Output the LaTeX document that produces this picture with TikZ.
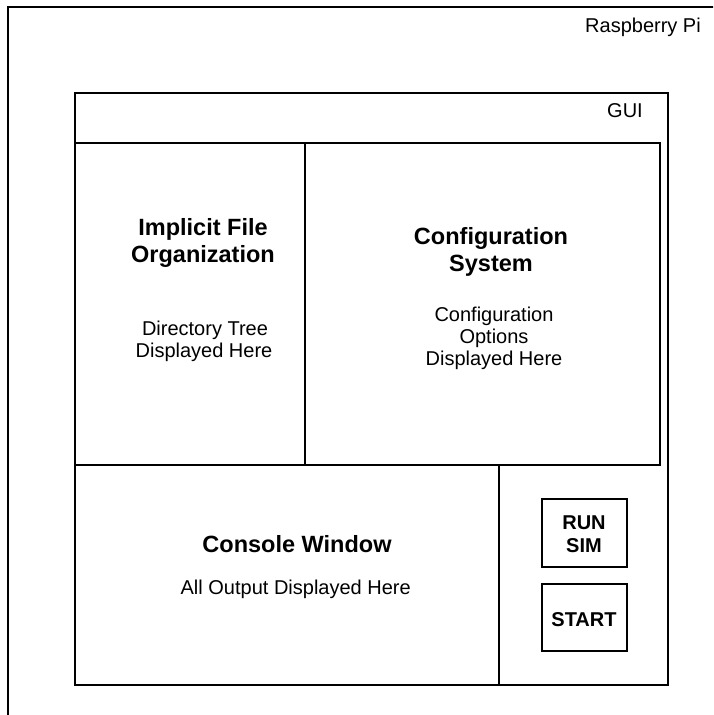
\documentclass[tikz,border=0pt]{standalone}
\usepackage{fontspec}
\setmainfont{Liberation Sans}
\begin{document}
\begin{tikzpicture}[x=1pt,y=-1pt,
  frame/.style={draw=black,line width=1.6pt},
  reg/.style={anchor=base,inner sep=0pt,font=\fontsize{20}{23}\selectfont},
  ttl/.style={anchor=base,inner sep=0pt,font=\fontsize{23.5}{27}\selectfont\bfseries},
  btn/.style={anchor=base,inner sep=0pt,font=\fontsize{20}{23}\selectfont\bfseries},
  lbl/.style={anchor=base,inner sep=0pt,font=\fontsize{20}{23}\selectfont}]
\useasboundingbox (0,0) rectangle (713,715);
\clip (0,0) rectangle (713,715);
\fill[white] (0,0) rectangle (713,715);
% outer (Raspberry Pi) frame, cut off at right and bottom
\draw[frame] (8,7) rectangle (725,730);
\node[lbl] (rpi) at (643,32.3) {Raspberry Pi};
% GUI frame
\draw[frame] (75,93) rectangle (668,685);
\node[lbl] (gui) at (625,117.3) {GUI};
% panels
\draw[frame] (75,143) rectangle (305,465);
\draw[frame] (305,143) rectangle (660,465);
\draw[frame] (75,465) rectangle (499,685);
% buttons
\draw[frame] (542,499) rectangle (627,567);
\draw[frame] (542,584) rectangle (627,651);
% texts
\node[ttl] (t1a) at (203,235) {Implicit File};
\node[ttl] (t1b) at (203,262) {Organization};
\node[reg] (s1a) at (205,335) {Directory Tree};
\node[reg] (s1b) at (204,357) {Displayed Here};
\node[ttl] (t2a) at (491,244.3) {Configuration};
\node[ttl] (t2b) at (491,271) {System};
\node[reg] (s2a) at (494,321.7) {Configuration};
\node[reg] (s2b) at (494,343.5) {Options};
\node[reg] (s2c) at (494,365.3) {Displayed Here};
\node[ttl] (t3) at (297,552) {Console Window};
\node[reg] (s3) at (295.7,594) {All Output Displayed Here};
\node[btn] (b1a) at (584,529) {RUN};
\node[btn] (b1b) at (584,552.3) {SIM};
\node[btn] (b2) at (584,626) {START};
\end{tikzpicture}
\end{document}
